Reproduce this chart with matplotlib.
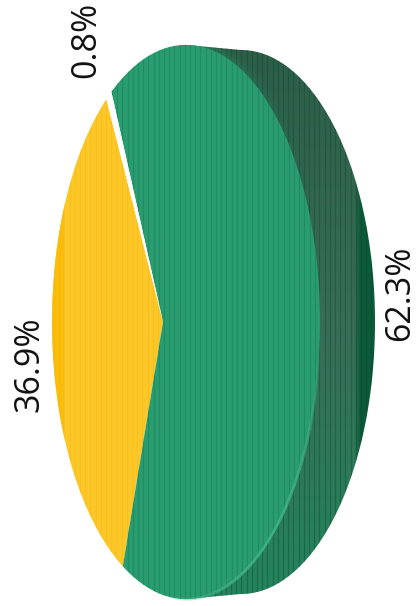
import numpy as np
import matplotlib
matplotlib.use('Agg')
import matplotlib.pyplot as plt
from matplotlib.patches import Polygon
from matplotlib.collections import LineCollection

plt.rcParams['font.family'] = ['Open Sans', 'DejaVu Sans']

# slices, counter clockwise starting at the top of the yellow one
values = [36.9, 62.3, 0.8]
colors = ['#fcc728', '#2a9d70', '#ffffff']
labels = ['36.9%', '62.3%', '0.8%']
label_x = [29, 400, 86]
label_y = [364, 293, 40]

START_ANGLE = 118.1

# pie geometry in pixels
CX, CY = 163, 322     # apex of the pie
S, T, K = 130, 273, -0.172   # perspective of the tilted face


def project(theta):
    x, y = np.cos(theta), np.sin(theta)
    w = 1 + K * x
    return CX + S * x / w, CY - T * y / w


def wedge(a0, a1):
    th = np.radians(np.linspace(a0, a1, 200))
    xs, ys = project(th)
    return np.column_stack([np.r_[CX, xs], np.r_[CY, ys]])


def stripes(ax, patch, x0, x1, color, alpha):
    xs = np.arange(x0, x1, 5.2)
    lines = ax.vlines(xs, 0, 606, color=color, lw=0.9, alpha=alpha, zorder=patch.get_zorder() + 0.1)
    lines.set_clip_path(patch)


def faded_arc(ax, a0, a1, peak, lw, color, zorder):
    # arc of the face edge, its alpha follows the "peak" curve
    th = np.radians(np.linspace(a0, a1, 120))
    xs, ys = project(th)
    pts = np.column_stack([xs, ys])
    segs = np.stack([pts[:-1], pts[1:]], axis=1)
    u = np.linspace(0, 1, len(segs))
    rgba = np.tile(matplotlib.colors.to_rgba(color), (len(segs), 1))
    rgba[:, 3] = peak(u)
    lc = LineCollection(segs, colors=rgba, linewidths=lw, zorder=zorder, capstyle='butt')
    ax.add_collection(lc)
    return lc


fig = plt.figure(figsize=(4.17, 6.06), dpi=100)
ax = fig.add_axes([0, 0, 1, 1])
ax.set_xlim(0, 417)
ax.set_ylim(606, 0)
ax.axis('off')

# ============= side of the pie =============
t = np.radians(np.linspace(-90, 90, 200))
back_x = 241 + 134 * np.cos(t)
back_y = 322 + 272 * np.sin(t)
side_pts = np.column_stack([np.r_[186, back_x, 186], np.r_[45, back_y, 599]])
side = Polygon(side_pts, closed=True, fc='none', ec='none', zorder=1)
ax.add_patch(side)

top_col = np.array([0x2a, 0x5c, 0x46]) / 255
mid_col = np.array([0x38, 0x6e, 0x56]) / 255
bot_col = np.array([0x22, 0x85, 0x5e]) / 255
dark_col = np.array([0x0b, 0x5a, 0x3a]) / 255
yy, xx = np.mgrid[0:606, 0:417]
f = yy / 605.0
shade = np.where(f[..., None] < 0.55,
                 top_col + (mid_col - top_col) * (f[..., None] / 0.55),
                 mid_col + (bot_col - mid_col) * ((f[..., None] - 0.55) / 0.45))
band = np.clip((xx - 354) / 6.0, 0, 1)[..., None]
shade = shade * (1 - band) + dark_col * band
img = ax.imshow(shade, extent=[0, 417, 606, 0], aspect='auto', zorder=1, interpolation='bilinear')
img.set_clip_path(side)
stripes(ax, side, 205, 375, '#0f3d2a', 0.35)

# soft shadow of the face on the side, gone by the middle of the pie
for lw, a in [(11, 0.14), (7, 0.16), (4, 0.2)]:
    lc = faded_arc(ax, 85, 25, lambda u: a * (1 - u), lw, '#2a9d70', 1.5)
    lc.set_clip_path(side)

# ============= top face =============
a0 = START_ANGLE
for i, v in enumerate(values):
    a1 = a0 + v * 3.6
    face = Polygon(wedge(a0, a1), closed=True, fc=colors[i], ec='none', zorder=2 + i * 0.2)
    ax.add_patch(face)
    if colors[i] == '#2a9d70':
        stripes(ax, face, 112, 322, '#17805a', 0.55)
    elif colors[i] == '#fcc728':
        stripes(ax, face, 54, 165, '#f5b400', 0.35)
        band_l = ax.axvspan(50, 64, color='#fbbd0c', zorder=2.05, lw=0)
        band_l.set_clip_path(face)
    a0 = a1

# light rim at the lower right of the face, fades in and out
faded_arc(ax, -5, -88, lambda u: 0.8 * np.sin(np.pi * u) ** 0.7, 2.0, '#45ba8c', 3)

for s, x, y in zip(labels, label_x, label_y):
    ax.text(x, y, s, rotation=90, ha='center', va='center', fontsize=24.5, color='#111111', zorder=4)

fig.savefig('out.png', dpi=100)
